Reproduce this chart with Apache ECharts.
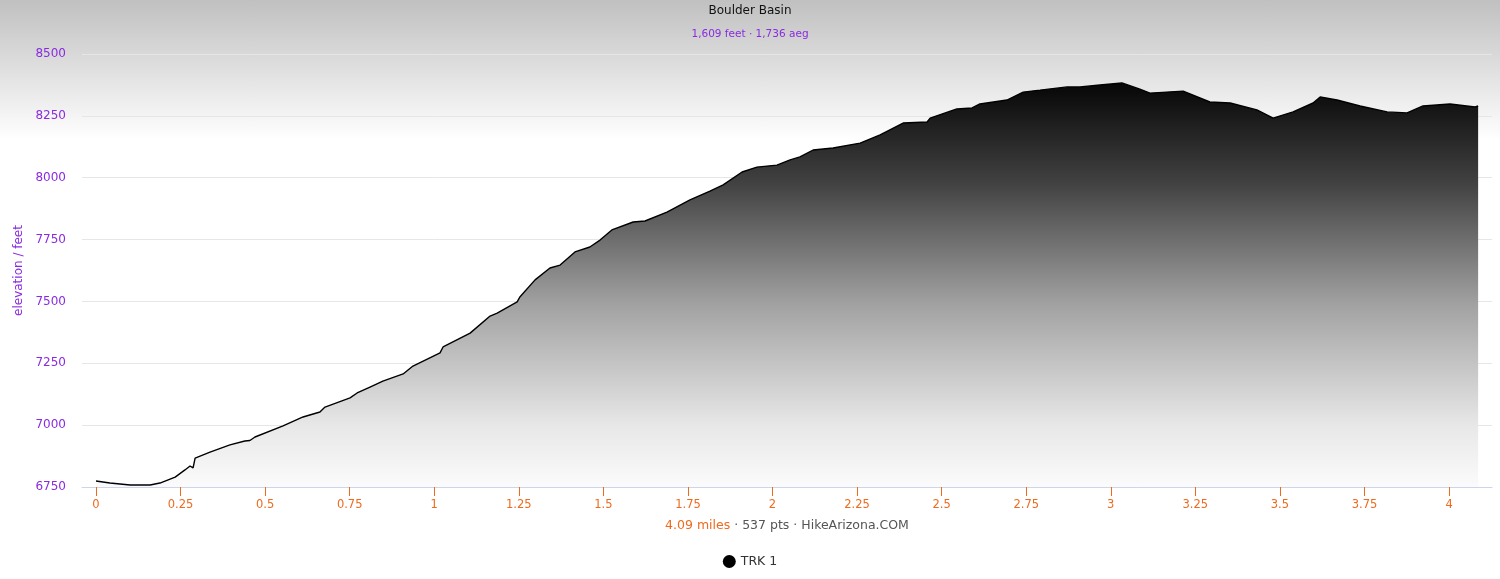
<!DOCTYPE html>
<html>
<head>
<meta charset="utf-8">
<script src="https://cdn.jsdelivr.net/npm/echarts@6/dist/echarts.min.js"></script>
<style>
html,body{margin:0;padding:0;}
#c{width:1500px;height:579px;background:linear-gradient(to bottom,#c0c0c0 0px,#ffffff 140px,#ffffff 579px);}
</style>
</head>
<body>
<div id="c"></div>
<script>
const miles = [0,0.041,0.101,0.160,0.189,0.234,0.263,0.278,0.287,0.293,0.337,0.396,0.440,0.455,0.470,0.553,0.612,0.662,0.677,0.751,0.772,0.810,0.848,0.908,0.937,1.017,1.026,1.106,1.165,1.186,1.245,1.253,1.298,1.342,1.372,1.416,1.460,1.490,1.525,1.588,1.623,1.688,1.756,1.815,1.854,1.910,1.954,2.013,2.052,2.081,2.120,2.179,2.259,2.318,2.386,2.457,2.466,2.545,2.590,2.613,2.693,2.741,2.791,2.871,2.909,2.968,3.033,3.086,3.116,3.214,3.293,3.353,3.432,3.480,3.539,3.598,3.619,3.669,3.737,3.817,3.876,3.923,4.003,4.077,4.086];
const elevation = [6774,6766,6758,6758,6766,6790,6819,6835,6827,6867,6891,6920,6936,6938,6952,6997,7033,7053,7073,7110,7130,7154,7178,7207,7239,7292,7316,7372,7441,7453,7498,7518,7587,7635,7647,7700,7720,7748,7789,7821,7825,7861,7910,7946,7971,8023,8043,8051,8072,8084,8112,8120,8140,8173,8221,8225,8241,8278,8282,8298,8314,8346,8354,8367,8367,8375,8383,8358,8342,8350,8306,8302,8274,8241,8266,8302,8326,8314,8290,8266,8262,8290,8298,8286,8290];
const xTicks = [0,0.25,0.5,0.75,1,1.25,1.5,1.75,2,2.25,2.5,2.75,3,3.25,3.5,3.75,4];
const yTicks = [6750,7000,7250,7500,7750,8000,8250,8500];
const titleText = 'Boulder Basin';
const subText = '1,609 feet \u00b7 1,736 aeg';
const seriesName = 'TRK 1';

const FONT = 'DejaVu Sans';
const PURPLE = '#8a2be2';
const ORANGE = '#ef6a1d';

const chart = echarts.init(document.getElementById('c'), null, {renderer:'canvas'});
chart.setOption({
  backgroundColor: 'transparent',
  animation: false,
  textStyle: {fontFamily: FONT},
  title: [
    {text: titleText, left: 'center', top: 0, textStyle: {fontSize: 12, fontWeight: 'normal', color: '#111', fontFamily: FONT}},
    {text: subText, left: 'center', top: 24, textStyle: {fontSize: 10.5, fontWeight: 'normal', color: PURPLE, fontFamily: FONT}}
  ],
  legend: {
    bottom: 6, left: 'center', icon: 'circle', itemWidth: 13, itemHeight: 13, itemGap: 8,
    textStyle: {fontSize: 12.5, color: '#333', fontFamily: FONT},
    data: [seriesName]
  },
  grid: {left: 82, right: 8, top: 54, bottom: 92, containLabel: false},
  xAxis: {
    type: 'value', min: -0.0414, max: 4.127,
    name: '{a|4.09 miles}{b| \u00b7 537 pts \u00b7 HikeArizona.COM}',
    nameLocation: 'middle', nameGap: 32,
    nameTextStyle: {rich: {a: {color: ORANGE, fontSize: 12.5, fontFamily: FONT}, b: {color: '#555', fontSize: 12.5, fontFamily: FONT}}},
    axisLine: {show: true, lineStyle: {color: '#ccd6eb'}},
    axisTick: {show: true, length: 9, lineStyle: {color: ORANGE}, customValues: xTicks},
    axisLabel: {color: ORANGE, fontSize: 11.5, margin: 12, customValues: xTicks, fontFamily: FONT},
    splitLine: {show: false}
  },
  yAxis: {
    type: 'value', min: 6750, max: 8500, interval: 250,
    name: 'elevation / feet', nameLocation: 'middle', nameGap: 54,
    nameTextStyle: {color: PURPLE, fontSize: 12, fontFamily: FONT},
    axisLine: {show: false}, axisTick: {show: false},
    axisLabel: {color: PURPLE, fontSize: 12, margin: 16, fontFamily: FONT, formatter: v => String(v)},
    splitLine: {show: true, lineStyle: {color: '#e6e6e6'}}
  },
  series: [{
    name: seriesName, type: 'line', symbol: 'none', smooth: false,
    data: miles.map((m, i) => [m, elevation[i]]),
    itemStyle: {color: '#000'},
    lineStyle: {color: '#000', width: 1.4},
    areaStyle: {
      origin: 'start', opacity: 1,
      color: new echarts.graphic.LinearGradient(0, 0, 0, 1, [
        {offset: 0, color: '#060606'},
        {offset: 0.25, color: '#424242'},
        {offset: 0.55, color: '#a2a2a2'},
        {offset: 0.85, color: '#e8e8e8'},
        {offset: 1, color: '#fbfbfb'}
      ])
    }
  }]
});
</script>
</body>
</html>
